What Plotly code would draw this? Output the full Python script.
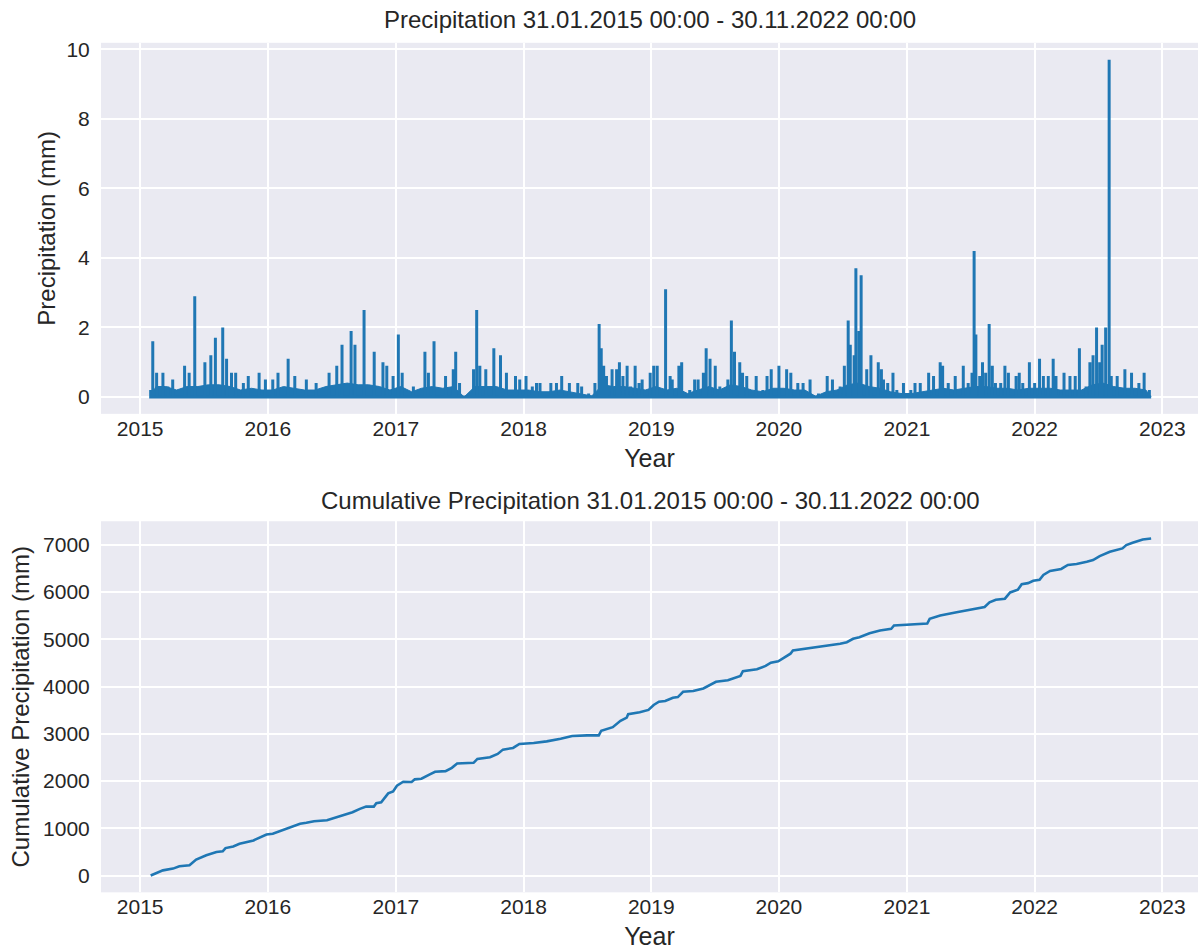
import plotly.graph_objects as go

# hourly precipitation, peaks (mm); zeros mark dry spells
precip_dates = [
    "2015-01-31", "2015-02-06", "2015-02-17", "2015-03-07", "2015-03-21", "2015-04-04",
    "2015-05-08", "2015-05-21", "2015-06-06", "2015-07-05", "2015-07-22", "2015-08-04",
    "2015-08-25", "2015-09-05", "2015-09-19", "2015-10-01", "2015-10-23", "2015-11-06",
    "2015-12-07", "2015-12-25",
    "2016-01-15", "2016-01-30", "2016-02-28", "2016-03-18", "2016-04-20", "2016-05-18",
    "2016-06-24", "2016-07-16", "2016-07-31", "2016-08-26", "2016-09-06", "2016-10-02",
    "2016-10-31", "2016-11-25", "2016-12-06", "2016-12-24",
    "2017-01-08", "2017-01-19", "2017-02-20", "2017-03-25", "2017-04-04", "2017-04-20",
    "2017-05-23", "2017-06-14", "2017-06-21", "2017-07-02", "2017-07-08", "2017-08-07",
    "2017-08-11", "2017-08-20",
    "2017-08-29", "2017-09-15", "2017-10-08", "2017-10-27", "2017-11-13", "2017-12-09",
    "2017-12-21",
    "2018-01-08", "2018-01-26", "2018-02-07", "2018-02-17", "2018-03-20", "2018-04-05",
    "2018-04-20", "2018-05-12", "2018-06-05", "2018-06-16", "2018-06-22", "2018-07-06",
    "2018-07-18", "2018-07-24",
    "2018-08-05", "2018-08-11", "2018-08-18", "2018-08-26", "2018-09-11", "2018-09-24",
    "2018-10-02", "2018-10-12", "2018-10-24", "2018-11-03", "2018-11-16", "2018-11-27",
    "2018-12-06", "2018-12-29",
    "2019-01-08", "2019-01-18", "2019-02-11", "2019-02-24", "2019-03-02", "2019-03-21",
    "2019-03-29", "2019-04-21", "2019-05-05", "2019-05-15", "2019-05-30", "2019-06-07",
    "2019-06-18", "2019-07-03", "2019-07-16", "2019-08-08", "2019-08-18", "2019-08-27",
    "2019-09-11", "2019-09-19", "2019-10-01", "2019-10-28", "2019-11-16", "2019-11-28",
    "2019-12-10",
    "2020-01-01", "2020-01-23", "2020-02-04", "2020-02-24", "2020-03-10", "2020-03-30",
    "2020-04-08", "2020-04-23", "2020-05-10",
    "2020-05-18", "2020-06-02", "2020-06-24", "2020-07-06", "2020-07-17",
    "2020-07-23", "2020-08-03", "2020-08-08", "2020-08-17", "2020-08-23", "2020-09-08",
    "2020-09-20", "2020-10-11", "2020-10-20", "2020-10-26", "2020-11-07", "2020-11-22",
    "2020-12-03", "2020-12-22",
    "2021-01-12", "2021-01-24", "2021-02-08", "2021-03-04", "2021-03-18", "2021-04-06",
    "2021-04-13", "2021-04-29", "2021-05-19", "2021-06-11", "2021-06-25", "2021-07-06",
    "2021-07-12", "2021-07-17", "2021-07-28", "2021-08-05", "2021-08-14", "2021-08-24",
    "2021-09-02", "2021-09-11", "2021-09-26", "2021-10-08", "2021-10-18", "2021-11-09",
    "2021-11-18", "2021-11-28", "2021-12-17",
    "2022-01-01", "2022-01-15", "2022-01-26", "2022-02-09", "2022-02-23", "2022-03-03",
    "2022-03-17", "2022-03-26", "2022-04-12", "2022-04-27", "2022-05-09", "2022-05-28",
    "2022-06-08", "2022-06-17", "2022-06-27", "2022-07-06", "2022-07-13", "2022-07-23",
    "2022-08-02", "2022-08-08", "2022-08-25", "2022-09-16", "2022-10-05", "2022-10-26",
    "2022-11-10", "2022-11-25", "2022-11-30",
]
precip_values = [
    0.2, 1.6, 0.7, 0.7, 0.3, 0.5,
    0.9, 0.7, 2.9, 1.0, 1.2, 1.7,
    2.0, 1.1, 0.7, 0.7, 0.4, 0.6,
    0.7, 0.5,
    0.5, 0.7, 1.1, 0.6, 0.5, 0.4,
    0.7, 0.9, 1.5, 1.9, 1.5, 2.5,
    1.3, 1.0, 0.9, 0.6,
    1.8, 0.7, 0.3, 1.3, 0.7, 1.6,
    0.6, 0.8, 1.3, 0.4, 0.0, 0.0,
    0.8, 2.5,
    0.9, 0.8, 1.4, 1.2, 0.7, 0.6,
    0.5,
    0.6, 0.3, 0.4, 0.4, 0.4, 0.4,
    0.6, 0.4, 0.4, 0.3, 0.0, 0.1,
    0.0, 0.4,
    2.1, 1.4, 0.9, 0.6, 0.8, 0.8,
    1.0, 0.6, 0.9, 0.3, 0.9, 0.4,
    0.5, 0.7,
    0.9, 0.9, 3.1, 0.6, 0.5, 0.9,
    1.0, 0.2, 0.5, 0.5, 0.7, 1.4,
    1.1, 0.9, 0.3, 0.5, 2.2, 1.3,
    1.0, 0.7, 0.6, 0.6, 0.2, 0.6,
    0.8,
    0.9, 0.8, 0.7, 0.4, 0.4, 0.5,
    0.0, 0.1, 0.0,
    0.6, 0.5, 0.3, 0.9, 2.2,
    1.5, 1.2, 3.7, 1.9, 3.5, 0.8,
    1.2, 1.0, 0.8, 0.5, 0.4, 0.7,
    0.2, 0.4,
    0.2, 0.4, 0.4, 0.7, 0.6, 1.0,
    0.9, 0.4, 0.6, 0.9, 0.4, 0.7,
    4.2, 1.8, 0.6, 1.0, 0.7, 2.1,
    0.9, 0.4, 0.4, 0.9, 0.7, 0.6,
    0.7, 0.4, 1.0,
    0.4, 1.1, 0.6, 0.6, 1.1, 0.6,
    0.2, 0.7, 0.6, 0.6, 1.4, 0.3,
    1.0, 1.2, 2.0, 1.0, 1.5, 2.0,
    9.7, 0.6, 0.6, 0.8, 0.7, 0.4,
    0.7, 0.2, 0.0,
]

# level up to which the hourly trace looks solid, per month (mm)
base_months = [
    "2015-01-31", "2015-02-15", "2015-03-15", "2015-04-15", "2015-05-15", "2015-06-15",
    "2015-07-15", "2015-08-15", "2015-09-15", "2015-10-15", "2015-11-15", "2015-12-15",
    "2016-01-15", "2016-02-15", "2016-03-15", "2016-04-15", "2016-05-15", "2016-06-15",
    "2016-07-15", "2016-08-15", "2016-09-15", "2016-10-15", "2016-11-15", "2016-12-15",
    "2017-01-15", "2017-02-15", "2017-03-15", "2017-04-15", "2017-05-15", "2017-06-15",
    "2017-07-15", "2017-08-15", "2017-09-15", "2017-10-15", "2017-11-15", "2017-12-15",
    "2018-01-15", "2018-02-15", "2018-03-15", "2018-04-15", "2018-05-15", "2018-06-15",
    "2018-07-15", "2018-08-15", "2018-09-15", "2018-10-15", "2018-11-15", "2018-12-15",
    "2019-01-15", "2019-02-15", "2019-03-15", "2019-04-15", "2019-05-15", "2019-06-15",
    "2019-07-15", "2019-08-15", "2019-09-15", "2019-10-15", "2019-11-15", "2019-12-15",
    "2020-01-15", "2020-02-15", "2020-03-15", "2020-04-15", "2020-05-15", "2020-06-15",
    "2020-07-15", "2020-08-15", "2020-09-15", "2020-10-15", "2020-11-15", "2020-12-15",
    "2021-01-15", "2021-02-15", "2021-03-15", "2021-04-15", "2021-05-15", "2021-06-15",
    "2021-07-15", "2021-08-15", "2021-09-15", "2021-10-15", "2021-11-15", "2021-12-15",
    "2022-01-15", "2022-02-15", "2022-03-15", "2022-04-15", "2022-05-15", "2022-06-15",
    "2022-07-15", "2022-08-15", "2022-09-15", "2022-10-15", "2022-11-15", "2022-11-30",
]
base_levels = [
    0.0, 0.3, 0.3, 0.2, 0.3, 0.3,
    0.35, 0.35, 0.3, 0.2, 0.25, 0.2,
    0.2, 0.3, 0.25, 0.2, 0.2, 0.3,
    0.35, 0.4, 0.35, 0.35, 0.3, 0.2,
    0.3, 0.15, 0.25, 0.3, 0.25, 0.3,
    0.0, 0.3, 0.3, 0.3, 0.2, 0.2,
    0.2, 0.15, 0.15, 0.2, 0.15, 0.1,
    0.03, 0.35, 0.3, 0.3, 0.25, 0.2,
    0.3, 0.2, 0.25, 0.1, 0.2, 0.3,
    0.2, 0.35, 0.3, 0.2, 0.15, 0.25,
    0.25, 0.2, 0.2, 0.02, 0.15, 0.2,
    0.35, 0.4, 0.3, 0.25, 0.15, 0.1,
    0.1, 0.15, 0.2, 0.25, 0.2, 0.25,
    0.3, 0.3, 0.25, 0.25, 0.2, 0.25,
    0.25, 0.25, 0.2, 0.2, 0.2, 0.35,
    0.4, 0.3, 0.25, 0.25, 0.2, 0.0,
]

# cumulative precipitation (mm)
cum_dates = [
    "2015-01-31", "2015-02-23", "2015-03-07", "2015-04-05", "2015-04-23", "2015-05-22",
    "2015-06-10", "2015-07-09", "2015-08-07", "2015-08-25", "2015-09-02", "2015-09-24",
    "2015-10-12", "2015-11-21", "2015-12-28", "2016-01-15", "2016-02-14", "2016-03-14",
    "2016-04-02", "2016-04-20", "2016-05-12", "2016-06-18", "2016-07-06", "2016-08-04",
    "2016-08-30", "2016-09-20", "2016-10-08", "2016-10-30", "2016-11-06", "2016-11-20",
    "2016-12-10", "2016-12-24", "2017-01-04", "2017-01-22", "2017-02-15", "2017-02-24",
    "2017-03-15", "2017-04-08", "2017-04-23", "2017-05-23", "2017-06-10", "2017-06-25",
    "2017-08-11", "2017-08-22", "2017-09-27", "2017-10-19", "2017-11-03", "2017-12-02",
    "2017-12-20", "2018-01-30", "2018-03-08", "2018-04-17", "2018-05-20", "2018-07-02",
    "2018-08-04", "2018-08-11", "2018-09-13", "2018-10-05", "2018-10-23", "2018-10-27",
    "2018-11-29", "2018-12-24", "2019-01-08", "2019-01-23", "2019-02-10", "2019-03-04",
    "2019-03-18", "2019-04-02", "2019-05-01", "2019-05-30", "2019-07-05", "2019-08-08",
    "2019-09-13", "2019-09-20", "2019-10-30", "2019-11-24", "2019-12-09", "2019-12-30",
    "2020-01-19", "2020-02-03", "2020-02-10", "2020-03-28", "2020-05-15", "2020-06-24",
    "2020-07-13", "2020-07-31", "2020-08-18", "2020-09-16", "2020-10-16", "2020-11-17",
    "2020-11-25", "2021-01-19", "2021-02-28", "2021-03-07", "2021-04-06", "2021-05-23",
    "2021-06-21", "2021-07-20", "2021-08-11", "2021-08-25", "2021-09-12", "2021-10-08",
    "2021-10-23", "2021-11-14", "2021-11-25", "2021-12-13", "2021-12-28", "2022-01-15",
    "2022-01-26", "2022-02-14", "2022-03-18", "2022-04-06", "2022-05-01", "2022-05-30",
    "2022-06-17", "2022-07-06", "2022-08-04", "2022-09-09", "2022-09-20", "2022-10-08",
    "2022-11-06", "2022-11-30",
]
cum_values = [
    0, 63, 110, 147, 196, 217,
    337, 428, 497, 512, 582, 617,
    674, 744, 870, 885, 969, 1038,
    1095, 1116, 1150, 1171, 1213, 1270,
    1340, 1411, 1460, 1460, 1530, 1550,
    1740, 1782, 1902, 1986, 1980, 2036,
    2050, 2141, 2197, 2211, 2281, 2372,
    2386, 2470, 2505, 2575, 2666, 2701,
    2785, 2806, 2841, 2897, 2953, 2967,
    2967, 3065, 3142, 3275, 3345, 3415,
    3457, 3506, 3611, 3681, 3695, 3765,
    3779, 3891, 3905, 3961, 4101, 4136,
    4227, 4325, 4367, 4437, 4507, 4535,
    4626, 4696, 4766, 4815, 4850, 4906,
    4941, 5011, 5046, 5130, 5186, 5224,
    5294, 5315, 5336, 5434, 5504, 5574,
    5616, 5665, 5686, 5784, 5840, 5861,
    5994, 6050, 6169, 6190, 6239, 6260,
    6365, 6449, 6491, 6575, 6596, 6645,
    6680, 6764, 6855, 6925, 6995, 7044,
    7114, 7135,
]

title_top = "Precipitation 31.01.2015 00:00 - 30.11.2022 00:00"
title_bottom = "Cumulative Precipitation 31.01.2015 00:00 - 30.11.2022 00:00"

BLUE = "#1f77b4"
TEXT = "#262626"
FONT = "Liberation Sans, Arial, sans-serif"
W, H = 1198, 952

# each reading as a stick from zero
stick_x, stick_y = [], []
for d, v in zip(precip_dates, precip_values):
    stick_x += [d, d, d]
    stick_y += [0, v, 0]

fig = go.Figure()
fig.add_trace(go.Scatter(
    x=base_months, y=base_levels, mode="lines", fill="tozeroy",
    fillcolor=BLUE, line=dict(color=BLUE, width=1),
    xaxis="x", yaxis="y", showlegend=False,
))
fig.add_trace(go.Scatter(
    x=stick_x, y=stick_y, mode="lines",
    line=dict(color=BLUE, width=3),
    xaxis="x", yaxis="y", showlegend=False,
))
fig.add_trace(go.Scatter(
    x=cum_dates, y=cum_values, mode="lines",
    line=dict(color=BLUE, width=2.6),
    xaxis="x2", yaxis="y2", showlegend=False,
))

xcommon = dict(
    range=["2014-09-11", "2023-04-13"],
    tickformat="%Y", dtick="M12", tick0="2015-01-01",
    showgrid=True, gridcolor="white", gridwidth=1.6,
    zeroline=False, showline=False, ticks="",
    tickfont=dict(size=21, color=TEXT, family=FONT),
    title=dict(text="Year", font=dict(size=25, color=TEXT, family=FONT), standoff=10),
    domain=[101 / W, 1.0],
)
ycommon = dict(
    showgrid=True, gridcolor="white", gridwidth=1.6,
    zeroline=False, showline=False,
    ticks="outside", ticklen=6, tickcolor="rgba(0,0,0,0)",
    tickfont=dict(size=21, color=TEXT, family=FONT),
)

fig.update_layout(
    width=W, height=H,
    margin=dict(l=0, r=0, t=0, b=0),
    paper_bgcolor="white", plot_bgcolor="#EAEAF2",
    font=dict(family=FONT, color=TEXT),
    xaxis=dict(xcommon, anchor="y"),
    xaxis2=dict(xcommon, anchor="y2"),
    yaxis=dict(ycommon, anchor="x", domain=[1 - 411 / H, 1 - 38 / H],
               range=[-0.485, 10.185], tickvals=[0, 2, 4, 6, 8, 10],
               title=dict(text="Precipitation (mm)",
                          font=dict(size=24, color=TEXT, family=FONT), standoff=4)),
    yaxis2=dict(ycommon, anchor="x2", domain=[1 - 892 / H, 1 - 519 / H],
                range=[-355, 7500], tickvals=[0, 1000, 2000, 3000, 4000, 5000, 6000, 7000],
                title=dict(text="Cumulative Precipitation (mm)",
                           font=dict(size=24, color=TEXT, family=FONT), standoff=6)),
    annotations=[
        dict(text=title_top, xref="paper", yref="paper", x=650 / W, y=1 - 15 / H,
             xanchor="center", yanchor="middle", showarrow=False,
             font=dict(size=24, color=TEXT, family=FONT)),
        dict(text=title_bottom, xref="paper", yref="paper", x=650 / W, y=1 - 498 / H,
             xanchor="center", yanchor="middle", showarrow=False,
             font=dict(size=24, color=TEXT, family=FONT)),
    ],
)

fig.write_html("out.html", config={"displayModeBar": False},
               post_script="document.body.style.margin = '0';")
